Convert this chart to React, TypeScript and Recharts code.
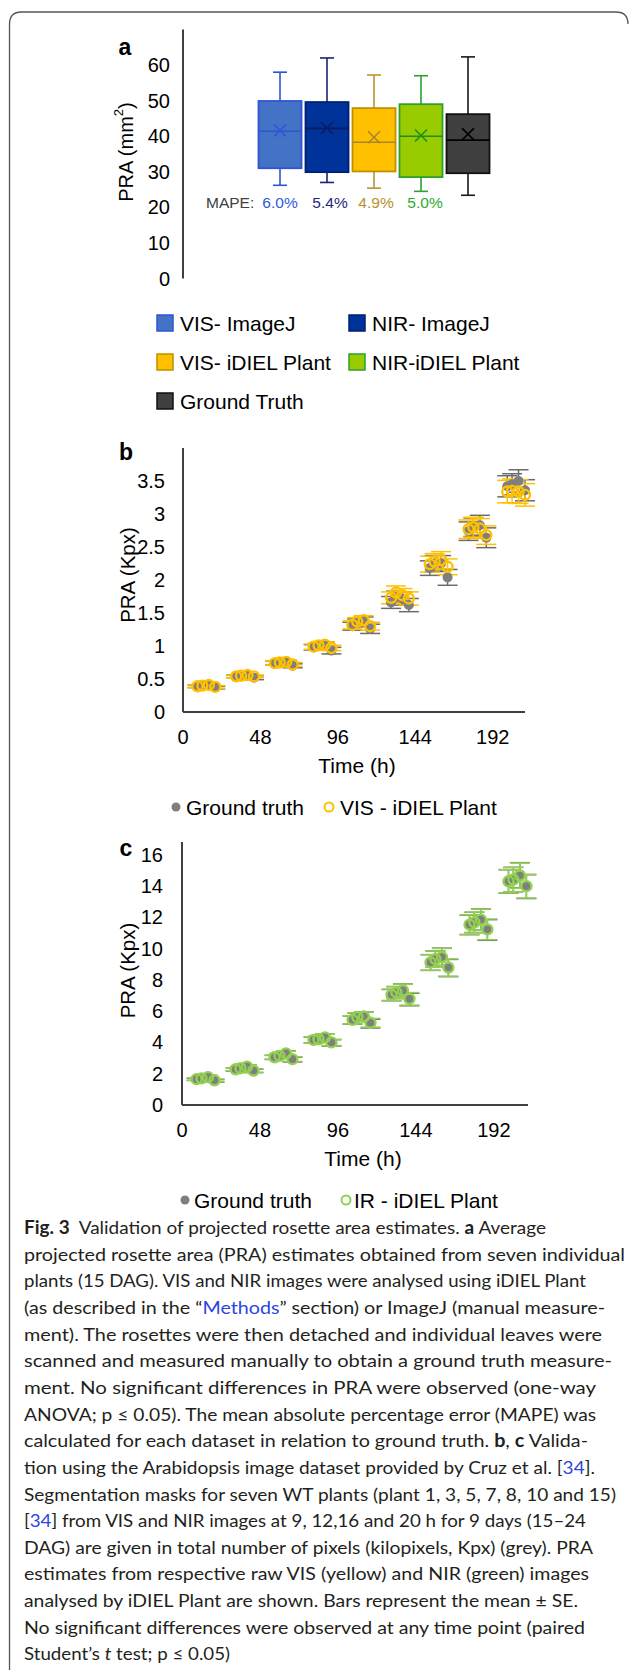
import React from "react";
import {
  ComposedChart,
  Bar,
  XAxis,
  YAxis,
  ScatterChart,
  Scatter,
  ErrorBar,
} from "recharts";

/* ── data: panel a (box plots) ───────────────────────────── */
const boxNames = [
  "VIS- ImageJ",
  "NIR- ImageJ",
  "VIS- iDIEL Plant",
  "NIR-iDIEL Plant",
  "Ground Truth",
];
const boxMin = [26.2, 27.0, 25.4, 24.5, 23.4];
const boxQ1 = [31.0, 29.9, 30.1, 28.5, 29.6];
const boxMedian = [41.4, 42.2, 38.3, 40.0, 38.9];
const boxQ3 = [49.9, 49.6, 47.9, 49.0, 46.2];
const boxMax = [58.0, 62.0, 57.2, 57.0, 62.3];
const boxMean = [41.6, 42.3, 39.7, 40.2, 40.6];
const mapeLabels = ["6.0%", "5.4%", "4.9%", "5.0%"];
const ticksA = [0, 10, 20, 30, 40, 50, 60];

/* ── data: panels b and c (time series) ──────────────────── */
const timeH = [
  9, 12, 16, 20, 33, 36, 40, 44, 57, 60, 64, 68, 81, 84, 88, 92, 105, 108,
  112, 116, 129, 132, 136, 140, 153, 156, 160, 164, 177, 180, 184, 188, 201,
  204, 208, 212,
];
const timeTicks = [0, 48, 96, 144, 192];

const gtB = [
  0.39, 0.4, 0.41, 0.37, 0.54, 0.55, 0.56, 0.52, 0.74, 0.75, 0.76, 0.7, 0.98,
  1.0, 1.02, 0.93, 1.3, 1.35, 1.37, 1.26, 1.66, 1.74, 1.72, 1.62, 2.18, 2.25,
  2.25, 2.04, 2.74, 2.8, 2.83, 2.64, 3.42, 3.45, 3.5, 3.36,
];
const gtBErr = [
  0.02, 0.02, 0.02, 0.02, 0.02, 0.02, 0.02, 0.03, 0.03, 0.03, 0.03, 0.03,
  0.04, 0.04, 0.04, 0.05, 0.06, 0.06, 0.07, 0.07, 0.09, 0.09, 0.1, 0.1, 0.11,
  0.12, 0.12, 0.12, 0.14, 0.14, 0.15, 0.15, 0.16, 0.16, 0.17, 0.16,
];
const visB = [
  0.39, 0.4, 0.41, 0.38, 0.54, 0.55, 0.56, 0.54, 0.74, 0.75, 0.76, 0.72, 0.99,
  1.01, 1.02, 0.97, 1.32, 1.37, 1.39, 1.3, 1.73, 1.81, 1.77, 1.72, 2.24, 2.28,
  2.3, 2.2, 2.77, 2.8, 2.78, 2.68, 3.34, 3.35, 3.34, 3.29,
];
const visBErr = [
  0.02, 0.02, 0.02, 0.02, 0.02, 0.02, 0.02, 0.02, 0.03, 0.03, 0.03, 0.03,
  0.04, 0.04, 0.04, 0.04, 0.06, 0.06, 0.07, 0.06, 0.09, 0.1, 0.1, 0.1, 0.12,
  0.12, 0.13, 0.12, 0.14, 0.15, 0.15, 0.14, 0.17, 0.18, 0.18, 0.17,
];
const ticksB = [0, 0.5, 1, 1.5, 2, 2.5, 3, 3.5];

const gtC = [
  1.64, 1.7, 1.8, 1.55, 2.27, 2.35, 2.45, 2.18, 3.04, 3.14, 3.31, 2.9, 4.15,
  4.2, 4.33, 3.97, 5.43, 5.6, 5.66, 5.2, 7.02, 7.18, 7.33, 6.74, 9.1, 9.32,
  9.47, 8.75, 11.5, 11.66, 11.85, 11.18, 14.28, 14.4, 14.68, 13.95,
];
const gtCErr = [
  0.07, 0.07, 0.08, 0.08, 0.1, 0.1, 0.11, 0.11, 0.13, 0.14, 0.14, 0.15, 0.18,
  0.19, 0.2, 0.2, 0.26, 0.27, 0.28, 0.28, 0.36, 0.38, 0.4, 0.4, 0.5, 0.52,
  0.55, 0.55, 0.62, 0.65, 0.68, 0.66, 0.75, 0.78, 0.8, 0.76,
];
const nirC = [
  1.65, 1.7, 1.78, 1.58, 2.28, 2.35, 2.45, 2.2, 3.05, 3.14, 3.3, 2.93, 4.16,
  4.2, 4.32, 4.0, 5.44, 5.61, 5.65, 5.25, 7.04, 7.19, 7.32, 6.78, 9.11, 9.32,
  9.45, 8.78, 11.52, 11.67, 11.84, 11.22, 14.29, 14.4, 14.66, 13.98,
];
const nirCErr = [
  0.07, 0.07, 0.08, 0.08, 0.1, 0.1, 0.11, 0.11, 0.13, 0.14, 0.14, 0.15, 0.18,
  0.19, 0.2, 0.2, 0.26, 0.27, 0.28, 0.28, 0.36, 0.38, 0.4, 0.4, 0.5, 0.52,
  0.55, 0.55, 0.62, 0.65, 0.68, 0.66, 0.75, 0.78, 0.8, 0.76,
];
const ticksC = [0, 2, 4, 6, 8, 10, 12, 14, 16];

const seriesB = ["Ground truth", "VIS - iDIEL Plant"];
const seriesC = ["Ground truth", "IR - iDIEL Plant"];

/* ── styles ──────────────────────────────────────────────── */
const FONT = "'Liberation Sans', Arial, sans-serif";
const AXIS = "#404040";
const boxFill = ["#4472C4", "#003399", "#FFC000", "#99CC00", "#404040"];
const boxStroke = ["#2F54D4", "#002070", "#BF9000", "#2E9E2E", "#111111"];
const whiskerColor = ["#2F54D4", "#1A2470", "#B8962E", "#2CA02C", "#1A1A1A"];
const markColor = ["#2F54D4", "#0D1A5E", "#A8862A", "#1E8F1E", "#000000"];
const mapeColor = ["#2F5BD8", "#1F2A7A", "#B8902A", "#2EAA2E"];
const GT_GREY = "#7F7F7F";
const VIS_YELLOW = "#FFC000";
const NIR_GREEN = "#92D050";

const boxData = boxNames.map((name, i) => ({
  name,
  range: [boxMin[i], boxMax[i]],
  min: boxMin[i],
  q1: boxQ1[i],
  median: boxMedian[i],
  q3: boxQ3[i],
  max: boxMax[i],
  mean: boxMean[i],
}));

const toPoints = (vals: number[], errs: number[]) =>
  timeH.map((t, i) => ({ t, v: vals[i], e: errs[i] }));

/* ── shapes / labels ─────────────────────────────────────── */
function BoxShape(props: any) {
  const { x, y, width, height, payload, index } = props;
  const { min, max, q1, q3, median, mean } = payload;
  const py = (v: number) => y + ((max - v) / (max - min)) * height;
  const cx = x + width / 2;
  const cap = 7;
  const w = whiskerColor[index];
  const m = markColor[index];
  const yMean = py(mean);
  return (
    <g>
      <line x1={cx} x2={cx} y1={py(max)} y2={py(q3)} stroke={w} strokeWidth={1.6} />
      <line x1={cx} x2={cx} y1={py(q1)} y2={py(min)} stroke={w} strokeWidth={1.6} />
      <line x1={cx - cap} x2={cx + cap} y1={py(max)} y2={py(max)} stroke={w} strokeWidth={1.6} />
      <line x1={cx - cap} x2={cx + cap} y1={py(min)} y2={py(min)} stroke={w} strokeWidth={1.6} />
      <rect
        x={x}
        y={py(q3)}
        width={width}
        height={py(q1) - py(q3)}
        fill={boxFill[index]}
        stroke={boxStroke[index]}
        strokeWidth={1.8}
      />
      <line x1={x} x2={x + width} y1={py(median)} y2={py(median)} stroke={m} strokeWidth={1.6} />
      <line x1={cx - 6} x2={cx + 6} y1={yMean - 6} y2={yMean + 6} stroke={m} strokeWidth={1.6} />
      <line x1={cx - 6} x2={cx + 6} y1={yMean + 6} y2={yMean - 6} stroke={m} strokeWidth={1.6} />
    </g>
  );
}

function YTitle(props: any) {
  const { viewBox, cx, shift, children, size } = props;
  const cy = viewBox.y + viewBox.height / 2 + shift;
  return (
    <text
      x={cx}
      y={cy}
      transform={`rotate(-90 ${cx} ${cy})`}
      textAnchor="middle"
      dominantBaseline="central"
      fontFamily={FONT}
      fontSize={size}
      fill="#000"
    >
      {children}
    </text>
  );
}

function XTitle(props: any) {
  const { viewBox, cx, text } = props;
  return (
    <text
      x={cx}
      y={viewBox.y + 53}
      textAnchor="middle"
      dominantBaseline="central"
      fontFamily={FONT}
      fontSize={21}
      fill="#000"
    >
      {text}
    </text>
  );
}

const dot = (fill: string) => (p: any) =>
  <circle cx={p.cx} cy={p.cy} r={5} fill={fill} />;
const ring = (stroke: string) => (p: any) =>
  <circle cx={p.cx} cy={p.cy} r={5} fill="none" stroke={stroke} strokeWidth={2.4} />;

const tickStyle = { fill: "#000", fontSize: 20, fontFamily: FONT };

/* ── panel a ─────────────────────────────────────────────── */
function PanelA() {
  return (
    <ComposedChart
      width={629}
      height={300}
      data={boxData}
      margin={{ top: 29.5, right: 137.5, bottom: 21.5, left: 123 }}
    >
      <XAxis dataKey="name" hide padding={{ left: 73.5, right: 0 }} />
      <YAxis
        width={60}
        domain={[0, 70]}
        ticks={ticksA}
        interval={0}
        tickLine={false}
        tickSize={0}
        tickMargin={13}
        axisLine={{ stroke: AXIS, strokeWidth: 2 }}
        tick={tickStyle}
        label={
          <YTitle cx={126} shift={-2} size={20}>
            <tspan>PRA (mm</tspan>
            <tspan dy={-8} fontSize={13}>2</tspan>
            <tspan dy={8}>)</tspan>
          </YTitle>
        }
      />
      <Bar dataKey="range" barSize={43} shape={BoxShape} isAnimationActive={false} />
    </ComposedChart>
  );
}

/* ── panels b / c ────────────────────────────────────────── */
function TimePanel(props: any) {
  const { height, top, bottom, left, right, xMax, yMax, yTicks, tickMargin, title, titleShift, timeX, gt, est, estColor } = props;
  return (
    <ScatterChart
      width={629}
      height={height}
      margin={{ top, right, bottom, left }}
    >
      <XAxis
        type="number"
        dataKey="t"
        domain={[0, xMax]}
        ticks={timeTicks}
        interval={0}
        height={50}
        tickLine={false}
        tickSize={0}
        tickMargin={18}
        axisLine={{ stroke: AXIS, strokeWidth: 2 }}
        tick={tickStyle}
        label={<XTitle cx={timeX} text="Time (h)" />}
      />
      <YAxis
        type="number"
        dataKey="v"
        width={60}
        domain={[0, yMax]}
        ticks={yTicks}
        interval={0}
        tickLine={false}
        tickSize={0}
        tickMargin={tickMargin}
        axisLine={{ stroke: AXIS, strokeWidth: 2 }}
        tick={tickStyle}
        label={
          <YTitle cx={127} shift={titleShift} size={20.5}>
            {title}
          </YTitle>
        }
      />
      <Scatter data={gt} dataKey="v" shape={dot(GT_GREY)} isAnimationActive={false}>
        <ErrorBar dataKey="e" direction="y" width={10} stroke="#6b6b6b" strokeWidth={1.5} />
      </Scatter>
      <Scatter data={est} dataKey="v" shape={ring(estColor)} isAnimationActive={false}>
        <ErrorBar dataKey="e" direction="y" width={10} stroke={estColor} strokeWidth={1.5} />
      </Scatter>
    </ScatterChart>
  );
}

/* ── caption ─────────────────────────────────────────────── */
type Seg = { t: string; b?: boolean; i?: boolean; link?: boolean };
const caption: { w: number; segs: Seg[] }[] = [
  { w: 522, segs: [{ t: "Fig. 3", b: true }, { t: "  Validation of projected rosette area estimates. " }, { t: "a", b: true }, { t: " Average" }] },
  { w: 601, segs: [{ t: "projected rosette area (PRA) estimates obtained from seven individual" }] },
  { w: 562, segs: [{ t: "plants (15 DAG). VIS and NIR images were analysed using iDIEL Plant" }] },
  { w: 581, segs: [{ t: "(as described in the “" }, { t: "Methods", link: true }, { t: "” section) or ImageJ (manual measure-" }] },
  { w: 578, segs: [{ t: "ment). The rosettes were then detached and individual leaves were" }] },
  { w: 588, segs: [{ t: "scanned and measured manually to obtain a ground truth measure-" }] },
  { w: 572, segs: [{ t: "ment. No significant differences in PRA were observed (one-way" }] },
  { w: 572, segs: [{ t: "ANOVA; p ≤ 0.05). The mean absolute percentage error (MAPE) was" }] },
  { w: 564, segs: [{ t: "calculated for each dataset in relation to ground truth. " }, { t: "b", b: true }, { t: ", " }, { t: "c", b: true }, { t: " Valida-" }] },
  { w: 571, segs: [{ t: "tion using the Arabidopsis image dataset provided by Cruz et al. [" }, { t: "34", link: true }, { t: "]." }] },
  { w: 592, segs: [{ t: "Segmentation masks for seven WT plants (plant 1, 3, 5, 7, 8, 10 and 15)" }] },
  { w: 562, segs: [{ t: "[" }, { t: "34", link: true }, { t: "] from VIS and NIR images at 9, 12,16 and 20 h for 9 days (15–24" }] },
  { w: 569, segs: [{ t: "DAG) are given in total number of pixels (kilopixels, Kpx) (grey). PRA" }] },
  { w: 565, segs: [{ t: "estimates from respective raw VIS (yellow) and NIR (green) images" }] },
  { w: 554, segs: [{ t: "analysed by iDIEL Plant are shown. Bars represent the mean ± SE." }] },
  { w: 561, segs: [{ t: "No significant differences were observed at any time point (paired" }] },
  { w: 206, segs: [{ t: "Student’s " }, { t: "t", i: true }, { t: " test; p ≤ 0.05)" }] },
];

const legendPos = [
  [157, 323],
  [349, 323],
  [157, 362],
  [349, 362],
  [157, 401],
];

function Overlay() {
  const txt = { fontFamily: FONT, fill: "#000" };
  return (
    <svg
      width={629}
      height={1670}
      style={{ position: "absolute", left: 0, top: 0, pointerEvents: "none" }}
    >
      <path
        d="M 9.5 1670 L 9.5 24 Q 9.5 12 21.5 12 L 616 12 Q 628 12 628 24"
        fill="none"
        stroke="#555"
        strokeWidth={1.3}
      />
      {/* panel letters */}
      <text x={125} y={47} textAnchor="middle" dominantBaseline="central" fontFamily={FONT} fontWeight={700} fontSize={23}>a</text>
      <text x={126} y={452} textAnchor="middle" dominantBaseline="central" fontFamily={FONT} fontWeight={700} fontSize={23}>b</text>
      <text x={126} y={848} textAnchor="middle" dominantBaseline="central" fontFamily={FONT} fontWeight={700} fontSize={23}>c</text>

      {/* MAPE */}
      <text x={206} y={202} dominantBaseline="central" fontFamily={FONT} fontSize={15.5} fill="#404040">MAPE:</text>
      {mapeLabels.map((m, i) => (
        <text key={m + i} x={[280, 330, 376, 425][i]} y={202} textAnchor="middle" dominantBaseline="central" fontFamily={FONT} fontSize={15.5} fill={mapeColor[i]}>
          {m}
        </text>
      ))}

      {/* legend a */}
      {boxNames.map((n, i) => (
        <g key={n}>
          <rect x={legendPos[i][0]} y={legendPos[i][1] - 8} width={16} height={16} fill={boxFill[i]} stroke={boxStroke[i]} strokeWidth={1.5} />
          <text x={legendPos[i][0] + 23} y={legendPos[i][1]} dominantBaseline="central" fontSize={21} {...txt}>
            {n}
          </text>
        </g>
      ))}

      {/* legend b */}
      <circle cx={176} cy={807} r={4.5} fill={GT_GREY} />
      <text x={186} y={807} dominantBaseline="central" fontSize={21} {...txt}>{seriesB[0]}</text>
      <circle cx={329} cy={807} r={4.5} fill="none" stroke={VIS_YELLOW} strokeWidth={2} />
      <text x={340} y={807} dominantBaseline="central" fontSize={21} {...txt}>{seriesB[1]}</text>

      {/* legend c */}
      <circle cx={185} cy={1200} r={4.5} fill={GT_GREY} />
      <text x={194} y={1200} dominantBaseline="central" fontSize={21} {...txt}>{seriesC[0]}</text>
      <circle cx={346} cy={1200} r={4.5} fill="none" stroke={NIR_GREEN} strokeWidth={2} />
      <text x={354} y={1200} dominantBaseline="central" fontSize={21} {...txt}>{seriesC[1]}</text>

      {/* caption */}
      {caption.map((line, li) => (
        <text
          key={li}
          x={24}
          y={1234 + li * 26.65}
          textLength={line.w}
          lengthAdjust="spacingAndGlyphs"
          fontFamily="Lato, 'Open Sans', sans-serif"
          fontSize={18}
          fill="#231F20"
          style={{ whiteSpace: "pre" }}
        >
          {line.segs.map((s, si) => (
            <tspan
              key={si}
              fontWeight={s.b ? 700 : 400}
              fontStyle={s.i ? "italic" : "normal"}
              fill={s.link ? "#2B45E0" : "#231F20"}
            >
              {s.t}
            </tspan>
          ))}
        </text>
      ))}
    </svg>
  );
}

export default function App() {
  return (
    <div
      style={{
        position: "absolute",
        left: 0,
        top: 0,
        width: 629,
        height: 1670,
        background: "#fff",
        overflow: "hidden",
      }}
    >
      <div style={{ position: "absolute", left: 0, top: 0 }}>
        <PanelA />
      </div>
      <div style={{ position: "absolute", left: 0, top: 420 }}>
        <TimePanel
          height={370}
          top={28}
          bottom={28}
          left={123}
          right={104}
          xMax={212}
          yMax={4}
          yTicks={ticksB}
          tickMargin={18}
          title="PRA (Kpx)"
          titleShift={-5}
          timeX={357}
          gt={toPoints(gtB, gtBErr)}
          est={toPoints(visB, visBErr)}
          estColor={VIS_YELLOW}
        />
      </div>
      <div style={{ position: "absolute", left: 0, top: 830 }}>
        <TimePanel
          height={350}
          top={12}
          bottom={25}
          left={122}
          right={101}
          xMax={213}
          yMax={16.8}
          yTicks={ticksC}
          tickMargin={19}
          title="PRA (Kpx)"
          titleShift={-3}
          timeX={363}
          gt={toPoints(gtC, gtCErr)}
          est={toPoints(nirC, nirCErr)}
          estColor={NIR_GREEN}
        />
      </div>
      <Overlay />
    </div>
  );
}
